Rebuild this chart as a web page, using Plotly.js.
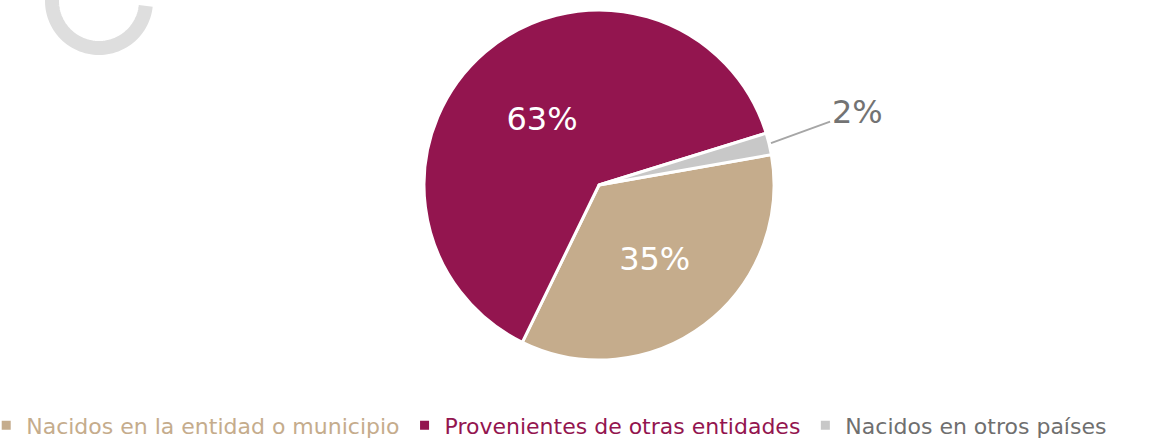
<!DOCTYPE html>
<html>
<head>
<meta charset="utf-8">
<script src="https://cdn.plot.ly/plotly-3.0.1.min.js"></script>
<style>
  html, body { margin: 0; padding: 0; background: #fff; }
  #chart { width: 1149px; height: 438px; }
</style>
</head>
<body>
<div id="chart"></div>
<script>
// datos del gráfico
const categorias = ['Nacidos en la entidad o municipio', 'Provenientes de otras entidades', 'Nacidos en otros países'];
const valores = [35, 63, 2];
const colores = ['#c5ac8c', '#93154f', '#c8c8c8'];
const coloresLeyenda = ['#c5ac8c', '#93154f', '#6f6f6f'];

const W = 1149, H = 438, B = 34;
const PH = H - B; // alto del área "paper"
const fuente = 'DejaVu Sans, sans-serif';

// pixeles -> coordenadas paper
function px(x, y) { return [x / W, 1 - y / PH]; }

// centro y radio del pastel (pixeles)
const cx = 599, cy = 185, R = 175;

// etiquetas de la leyenda con el color de cada serie
const etiquetas = categorias.map((c, i) => `<span style="color:${coloresLeyenda[i]}">${c}</span>`);

const rotacion = 80;
const trace = {
    type: 'pie',
    labels: etiquetas,
    values: valores,
    sort: false,
    direction: 'clockwise',
    rotation: rotacion,
    marker: { colors: colores, line: { color: '#ffffff', width: 3 } },
    textinfo: 'percent',
    textposition: ['inside', 'inside', 'none'],
    insidetextorientation: 'horizontal',
    insidetextfont: { family: fuente, size: 32, color: '#ffffff' },
    hoverinfo: 'percent',
    domain: { x: [(cx - R) / W, (cx + R) / W], y: [1 - (cy + R) / PH, 1 - (cy - R) / PH] }
};

// punto del borde de la rebanada pequeña para la línea guía
const total = valores.reduce((a, b) => a + b, 0);
const antes = valores[0] + valores[1];
const angMedio = (rotacion + (antes + valores[2] / 2) / total * 360) * Math.PI / 180;
const borde = px(cx + R * Math.sin(angMedio), cy - R * Math.cos(angMedio));

// arco decorativo gris arriba a la izquierda
let arco = '';
for (let a = 195; a >= 6; a -= 3) {
    const r = a * Math.PI / 180;
    const p = px(99 + 47 * Math.cos(r), 1 + 47 * Math.sin(r));
    arco += (arco ? 'L' : 'M') + p[0].toFixed(5) + ',' + p[1].toFixed(5);
}

const layout = {
    width: W,
    height: H,
    margin: { l: 0, r: 0, t: 0, b: B, autoexpand: false },
    paper_bgcolor: '#ffffff',
    font: { family: fuente, size: 22 },
    showlegend: true,
    legend: {
        orientation: 'h',
        x: -0.012, xanchor: 'left',
        y: -0.001, yanchor: 'top',
        font: { family: fuente, size: 22 },
        bgcolor: 'rgba(0,0,0,0)'
    },
    annotations: [{
        xref: 'paper', yref: 'paper',
        x: borde[0], y: borde[1],
        text: Math.round(valores[2] / total * 100) + '%',
        font: { family: fuente, size: 32, color: '#737373' },
        showarrow: true, arrowhead: 0, arrowwidth: 2, arrowcolor: '#a6a6a6',
        ax: 88, ay: -32, standoff: 2
    }],
    shapes: [{
        type: 'path',
        xref: 'paper', yref: 'paper',
        path: arco,
        line: { color: '#dedede', width: 14 }
    }]
};

Plotly.newPlot('chart', [trace], layout, { displayModeBar: false, staticPlot: true });
</script>
</body>
</html>
